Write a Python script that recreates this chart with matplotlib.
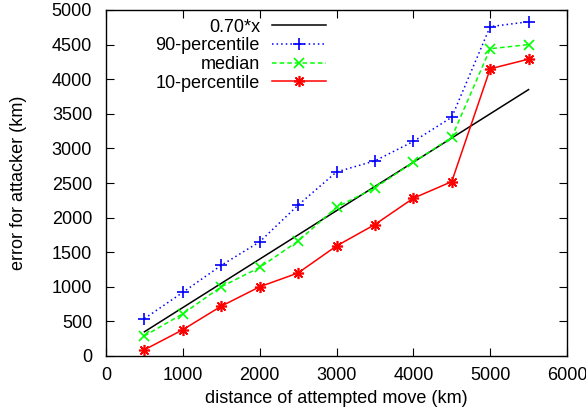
import matplotlib
matplotlib.use("Agg")
import matplotlib.pyplot as plt
import numpy as np

plt.rcParams['font.family'] = ['Liberation Sans', 'DejaVu Sans']

distance = [500, 1000, 1500, 2000, 2500, 3000, 3500, 4000, 4500, 5000, 5500]
p90 = [540, 920, 1310, 1650, 2180, 2660, 2820, 3100, 3450, 4760, 4830]
median = [290, 610, 1000, 1280, 1660, 2150, 2430, 2800, 3160, 4440, 4500]
p10 = [90, 380, 720, 1000, 1200, 1590, 1900, 2280, 2520, 4150, 4290]
slope = 0.70
x_ticks = [0, 1000, 2000, 3000, 4000, 5000, 6000]
y_ticks = [0, 500, 1000, 1500, 2000, 2500, 3000, 3500, 4000, 4500, 5000]

fig = plt.figure(figsize=(5.86, 4.17), dpi=100)
ax = fig.add_axes([106/586, 1-356/417, (567-106)/586, (356-10)/417])

fs = 13
xl = np.array(distance, dtype=float)
ax.plot(xl, slope*xl, color='black', lw=1.1, label='0.70*x')
ax.plot(distance, p90, color='#0000ff', lw=1.1, ls=(0, (1, 2)), marker='+', ms=8, mew=1.2, label='90-percentile')
ax.plot(distance, median, color='#00ff00', lw=1.1, ls=(0, (3, 2)), marker='x', ms=7, mew=1.2, label='median')
ax.plot(distance, p10, color='#ff0000', lw=1.1, marker=(8, 2, 0), ms=8, mew=1.2, label='10-percentile')

ax.set_xlim(0, 6000)
ax.set_ylim(0, 5000)
ax.set_xticks(x_ticks)
ax.set_yticks(y_ticks)
ax.tick_params(axis='both', direction='in', length=6, top=True, right=True, labelsize=fs, width=0.8)
ax.tick_params(axis='y', pad=10)
ax.tick_params(axis='x', pad=8)
for s in ax.spines.values():
    s.set_linewidth(1.0)
ax.set_xlabel('distance of attempted move (km)', fontsize=fs, labelpad=4)
ax.set_ylabel('error for attacker (km)', fontsize=fs, labelpad=18)

leg = ax.legend(loc='upper right', bbox_to_anchor=(0.477, 0.975), frameon=False, markerfirst=False,
                fontsize=fs, handlelength=3.0, labelspacing=0.09, handletextpad=0.65,
                borderaxespad=0, borderpad=0)

fig.savefig('out.png', dpi=100)
